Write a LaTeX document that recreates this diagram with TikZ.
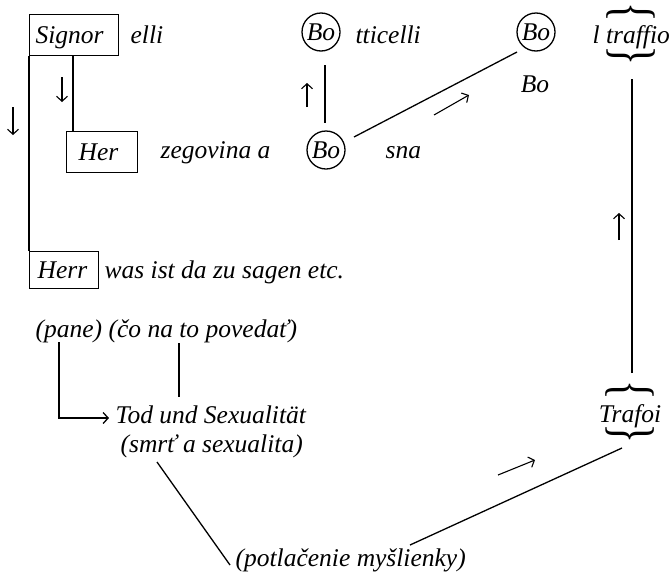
\documentclass[tikz,border=0pt]{standalone}
\usepackage{fontspec}
\setmainfont{Liberation Serif}
\usetikzlibrary{arrows.meta}
\begin{document}
\begin{tikzpicture}[x=1pt,y=-1pt, line width=1.3pt,
  every node/.style={font=\fontsize{25.5}{30}\selectfont\itshape, inner sep=0pt},
  lbl/.style={anchor=base west},
  wbox/.style={draw, anchor=north west, align=left, text height=20pt, text depth=4pt, inner ysep=0pt},
  bocirc/.style={draw, circle, minimum size=38pt, inner sep=0pt},
  tipglyph/.style={-{Straight Barb[length=5pt,width=11pt]}, line width=1.1pt},
  contip/.style={-{Straight Barb[length=5pt,width=11pt]}},
  bracegl/.style={inner sep=0pt, font=\fontsize{25.5}{30}\selectfont\upshape}]
\useasboundingbox (0,0) rectangle (671,576);

% boxes on the left
\node[wbox, inner xsep=6pt, text width=77pt, minimum height=41pt] (signor) at (29,14) {Signor};
\node[wbox, inner xsep=12pt, text width=47pt, minimum height=41pt] (her) at (66,131) {Her};
\node[wbox, inner xsep=8pt, text width=53pt, minimum height=37pt] (herr) at (29,251) {Herr};
\node[lbl] (elli) at (130,43) {elli};
\node[lbl] (zeg) at (160,158) {zegovina a};
\node[lbl] (was) at (104,278) {was ist da zu sagen etc.};
\draw (signor.south west) -- (herr.north west);
\draw ([xshift=44pt]signor.south west) -- ([xshift=7pt]her.north west);

% Bo circles
\node[bocirc] (bo1) at (321,32) {Bo};
\node[bocirc] (bo2) at (536,32) {Bo};
\node[bocirc] (bo3) at (326,150) {Bo};
\node[lbl] (tti) at (355,43) {tticelli};
\node[lbl] (sna) at (385,158) {sna};
\node[anchor=base] (bolow) at (535,92) {Bo};
\draw ([shift={(4,33)}]bo1.center) -- ([shift={(-1,-27)}]bo3.center);
\draw ([shift={(28,-13)}]bo3.center) -- ([shift={(-19,20)}]bo2.center);

% traffio / Trafoi
\node[lbl] (traf) at (592,43) {l traffio};
\node[bracegl, rotate=-90] (trA) at (631,12) {\scalebox{1.6}[2.3]{\{}};
\node[bracegl, rotate=90] (trB) at (631,56) {\scalebox{1.6}[2.3]{\{}};
\node[anchor=base] (trafoi) at (630,422) {Trafoi};
\node[bracegl, rotate=-90] (tfA) at (630,390) {\scalebox{1.6}[2.3]{\{}};
\node[bracegl, rotate=90] (tfB) at (630,434) {\scalebox{1.6}[2.3]{\{}};
\coordinate (rt) at (632,79);
\coordinate (rb) at (632,373);
\draw (rb) -- (rt);

% bottom part
\node[lbl] (pane) at (35,337) {(pane) (čo na to povedať)};
\node[lbl] (tod) at (115,423) {Tod und Sexualität};
\node[lbl] (smrt) at (120,452) {(smrť a sexualita)};
\node[lbl] (potl) at (235,566) {(potlačenie myšlienky)};
\draw[contip] ([shift={(24,5)}]pane.base west) |- ([shift={(-6,-5)}]tod.base west);
\draw ([shift={(144,6)}]pane.base west) -- ([shift={(64,-26)}]tod.base west);
\draw ([shift={(37,10)}]smrt.base west) -- ([shift={(-5,-1)}]potl.base west);
\draw ([shift={(175,-21)}]potl.base west) -- ([shift={(-8,26)}]trafoi.base);

% free-standing arrow signs
\coordinate (a1s) at (62,77);   \coordinate (a1e) at (62,102);
\coordinate (a2s) at (13,107);  \coordinate (a2e) at (13,135);
\coordinate (a3s) at (307,107); \coordinate (a3e) at (307,83);
\coordinate (a4s) at (434,115); \coordinate (a4e) at (469,95);
\coordinate (a5s) at (619,240); \coordinate (a5e) at (619,213);
\coordinate (a6s) at (498,475); \coordinate (a6e) at (535,460);
\draw[tipglyph] (a1s) -- (a1e);
\draw[tipglyph] (a2s) -- (a2e);
\draw[tipglyph] (a3s) -- (a3e);
\draw[tipglyph] (a4s) -- (a4e);
\draw[tipglyph] (a5s) -- (a5e);
\draw[tipglyph] (a6s) -- (a6e);
\end{tikzpicture}
\end{document}
